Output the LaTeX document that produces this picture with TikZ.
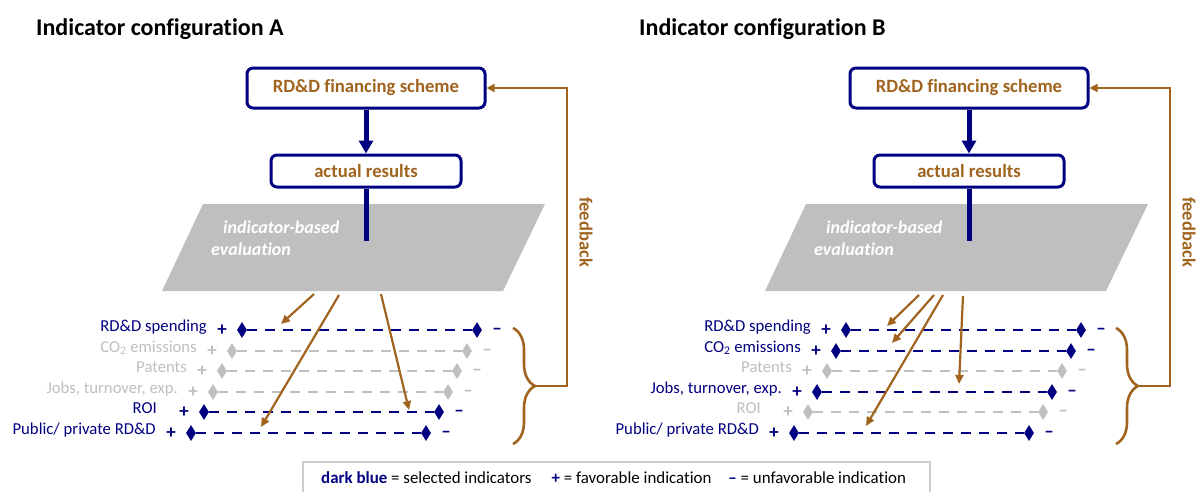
\documentclass[tikz,border=0pt]{standalone}
\usepackage{fontspec}
\setmainfont{Carlito}[Ligatures={TeX,NoCommon}]
\usepackage{tikz}
\usetikzlibrary{arrows.meta,shapes.geometric,decorations.pathreplacing}
\definecolor{navy}{RGB}{0,0,128}
\definecolor{rust}{RGB}{160,100,30}
\definecolor{offgray}{RGB}{191,191,191}
\definecolor{framegray}{RGB}{205,205,205}
\tikzstyle{panel title}=[anchor=base west, inner sep=0pt, font=\fontsize{24}{28}\selectfont\bfseries]
\tikzstyle{scheme box}=[draw=navy, line width=3pt, rounded corners=6pt, fill=white, text=rust, inner sep=0pt, font=\fontsize{18.7}{22}\selectfont\bfseries]
\tikzstyle{flow}=[draw=navy, line width=5pt]
\tikzstyle{eval text}=[anchor=base west, inner sep=0pt, text=white, font=\fontsize{18}{22}\selectfont\bfseries\itshape]
\tikzstyle{pick}=[draw=rust, line width=2.2pt, -{Triangle[length=9pt,width=8pt]}]
\tikzstyle{feedback line}=[draw=rust, line width=1.8pt, -{Triangle[length=8pt,width=8pt]}]
\tikzstyle{feedback text}=[rotate=-90, inner sep=0pt, text=rust, font=\fontsize{18.5}{22}\selectfont\bfseries]
\tikzstyle{indicator}=[anchor=mid east, inner sep=0pt, font=\fontsize{16.7}{20}\selectfont]
\tikzstyle{sign}=[inner sep=0pt, font=\fontsize{19}{20}\selectfont\bfseries]
\tikzstyle{end mark}=[diamond, draw=none, inner sep=0pt, minimum width=10pt, minimum height=16pt]
\tikzstyle{scale line}=[line width=2.8pt, dash pattern=on 10pt off 8pt]
\tikzstyle{legend text}=[anchor=mid west, inner sep=0pt, font=\fontsize{16.9}{20}\selectfont]

\begin{document}
\begin{tikzpicture}[x=1pt, y=-1pt]
\useasboundingbox (0,0) rectangle (1196,491);

% First the two panels: boxes, evaluation plane, brace and feedback loop
\foreach \p/\dx in {A/0, B/603} {
\begin{scope}[xshift=\dx pt]
\node[panel title] (\p-title) at (36,35) {Indicator configuration \p};
\node[scheme box, minimum width=238pt, minimum height=40pt] (\p-scheme) at (366,88) {RD\&D financing scheme};
\node[scheme box, minimum width=190pt, minimum height=32pt] (\p-results) at (366,171) {actual results};
\draw[flow, -{Triangle[length=13pt,width=14pt]}] (\p-scheme) -- (\p-results);
\fill[offgray] (203,204) -- (545,204) -- (503,291) -- (162,291) -- cycle;
\coordinate (\p-stem) at (366,241);
\draw[flow] (\p-results) -- (\p-stem);
\node[eval text] (\p-eval1) at (223,233) {indicator-based};
\node[eval text] (\p-eval2) at (211,255) {evaluation};
\draw[rust, line width=2.6pt, decorate, decoration={brace, amplitude=22pt}] (513,328) -- (513,444);
\coordinate (\p-tip) at (535,386);
\draw[feedback line] (\p-tip) -- ++(32,0) |- (\p-scheme);
\node[feedback text] (\p-fb) at (586,232) {feedback};
\end{scope}
}

% Indicator scales of configuration A
\foreach \i/\y/\xl/\tg/\col/\txt in {
	{1/330/242/35/navy/RD\&D spending},
	{2/351/232/35/offgray/CO\textsubscript{2} emissions},
	{3/371/222/35/offgray/Patents},
	{4/392/213/35/offgray/Jobs, turnover, exp.},
	{5/412/204/47/navy/ROI},
	{6/433/191/35/navy/{Public/ private RD\&D}}}
{
\node[end mark, fill=\col] (A-l\i) at (\xl,\y) {};
\node[end mark, fill=\col] (A-r\i) at (\xl+235,\y) {};
\path[scale line, draw=\col] (A-l\i) -- (A-r\i);
\node[sign, text=\col] (A-p\i) at (\xl-20,\y) {+};
\node[sign, text=\col] (A-m\i) at (\xl+255,\y+1) {\textendash};
\node[indicator, text=\col] (A-t\i) at (\xl-\tg,\y-1) {\txt};
}

% Indicator scales of configuration B
\begin{scope}[xshift=604pt]
\foreach \i/\y/\xl/\tg/\col/\txt in {
	{1/330/242/35/navy/RD\&D spending},
	{2/351/232/35/navy/CO\textsubscript{2} emissions},
	{3/371/223/35/offgray/Patents},
	{4/392/213/35/navy/Jobs, turnover, exp.},
	{5/412/204/47/offgray/ROI},
	{6/433/190/35/navy/{Public/ private RD\&D}}}
{
\node[end mark, fill=\col] (B-l\i) at (\xl,\y) {};
\node[end mark, fill=\col] (B-r\i) at (\xl+235,\y) {};
\path[scale line, draw=\col] (B-l\i) -- (B-r\i);
\node[sign, text=\col] (B-p\i) at (\xl-20,\y) {+};
\node[sign, text=\col] (B-m\i) at (\xl+255,\y+1) {\textendash};
\node[indicator, text=\col] (B-t\i) at (\xl-\tg,\y-1) {\txt};
}
\end{scope}

% Selection arrows out of the evaluation plane
\foreach \n/\xa/\ya/\xb/\yb in {
	A1/314/294/281/324,
	A2/339/295/261/427,
	A3/381/294/409/410,
	B1/919/295/887/326,
	B2/934/295/892/343,
	B3/943/295/866/426,
	B4/963/296/959/384}
{
\coordinate (s\n) at (\xa,\ya);
\coordinate (e\n) at (\xb,\yb);
\draw[pick] (s\n) -- (e\n);
}

% Legend
\draw[framegray, line width=1.5pt] (303,500) |- (930,462) -- (930,500);
\node[legend text] (legend) at (321,481) {\textbf{\textcolor{navy}{dark blue}} = selected indicators\hspace{20pt}\textbf{\textcolor{navy}{+}} = favorable indication\hspace{17pt}\textbf{\textcolor{navy}{\textendash}} = unfavorable indication};
\end{tikzpicture}
\end{document}
